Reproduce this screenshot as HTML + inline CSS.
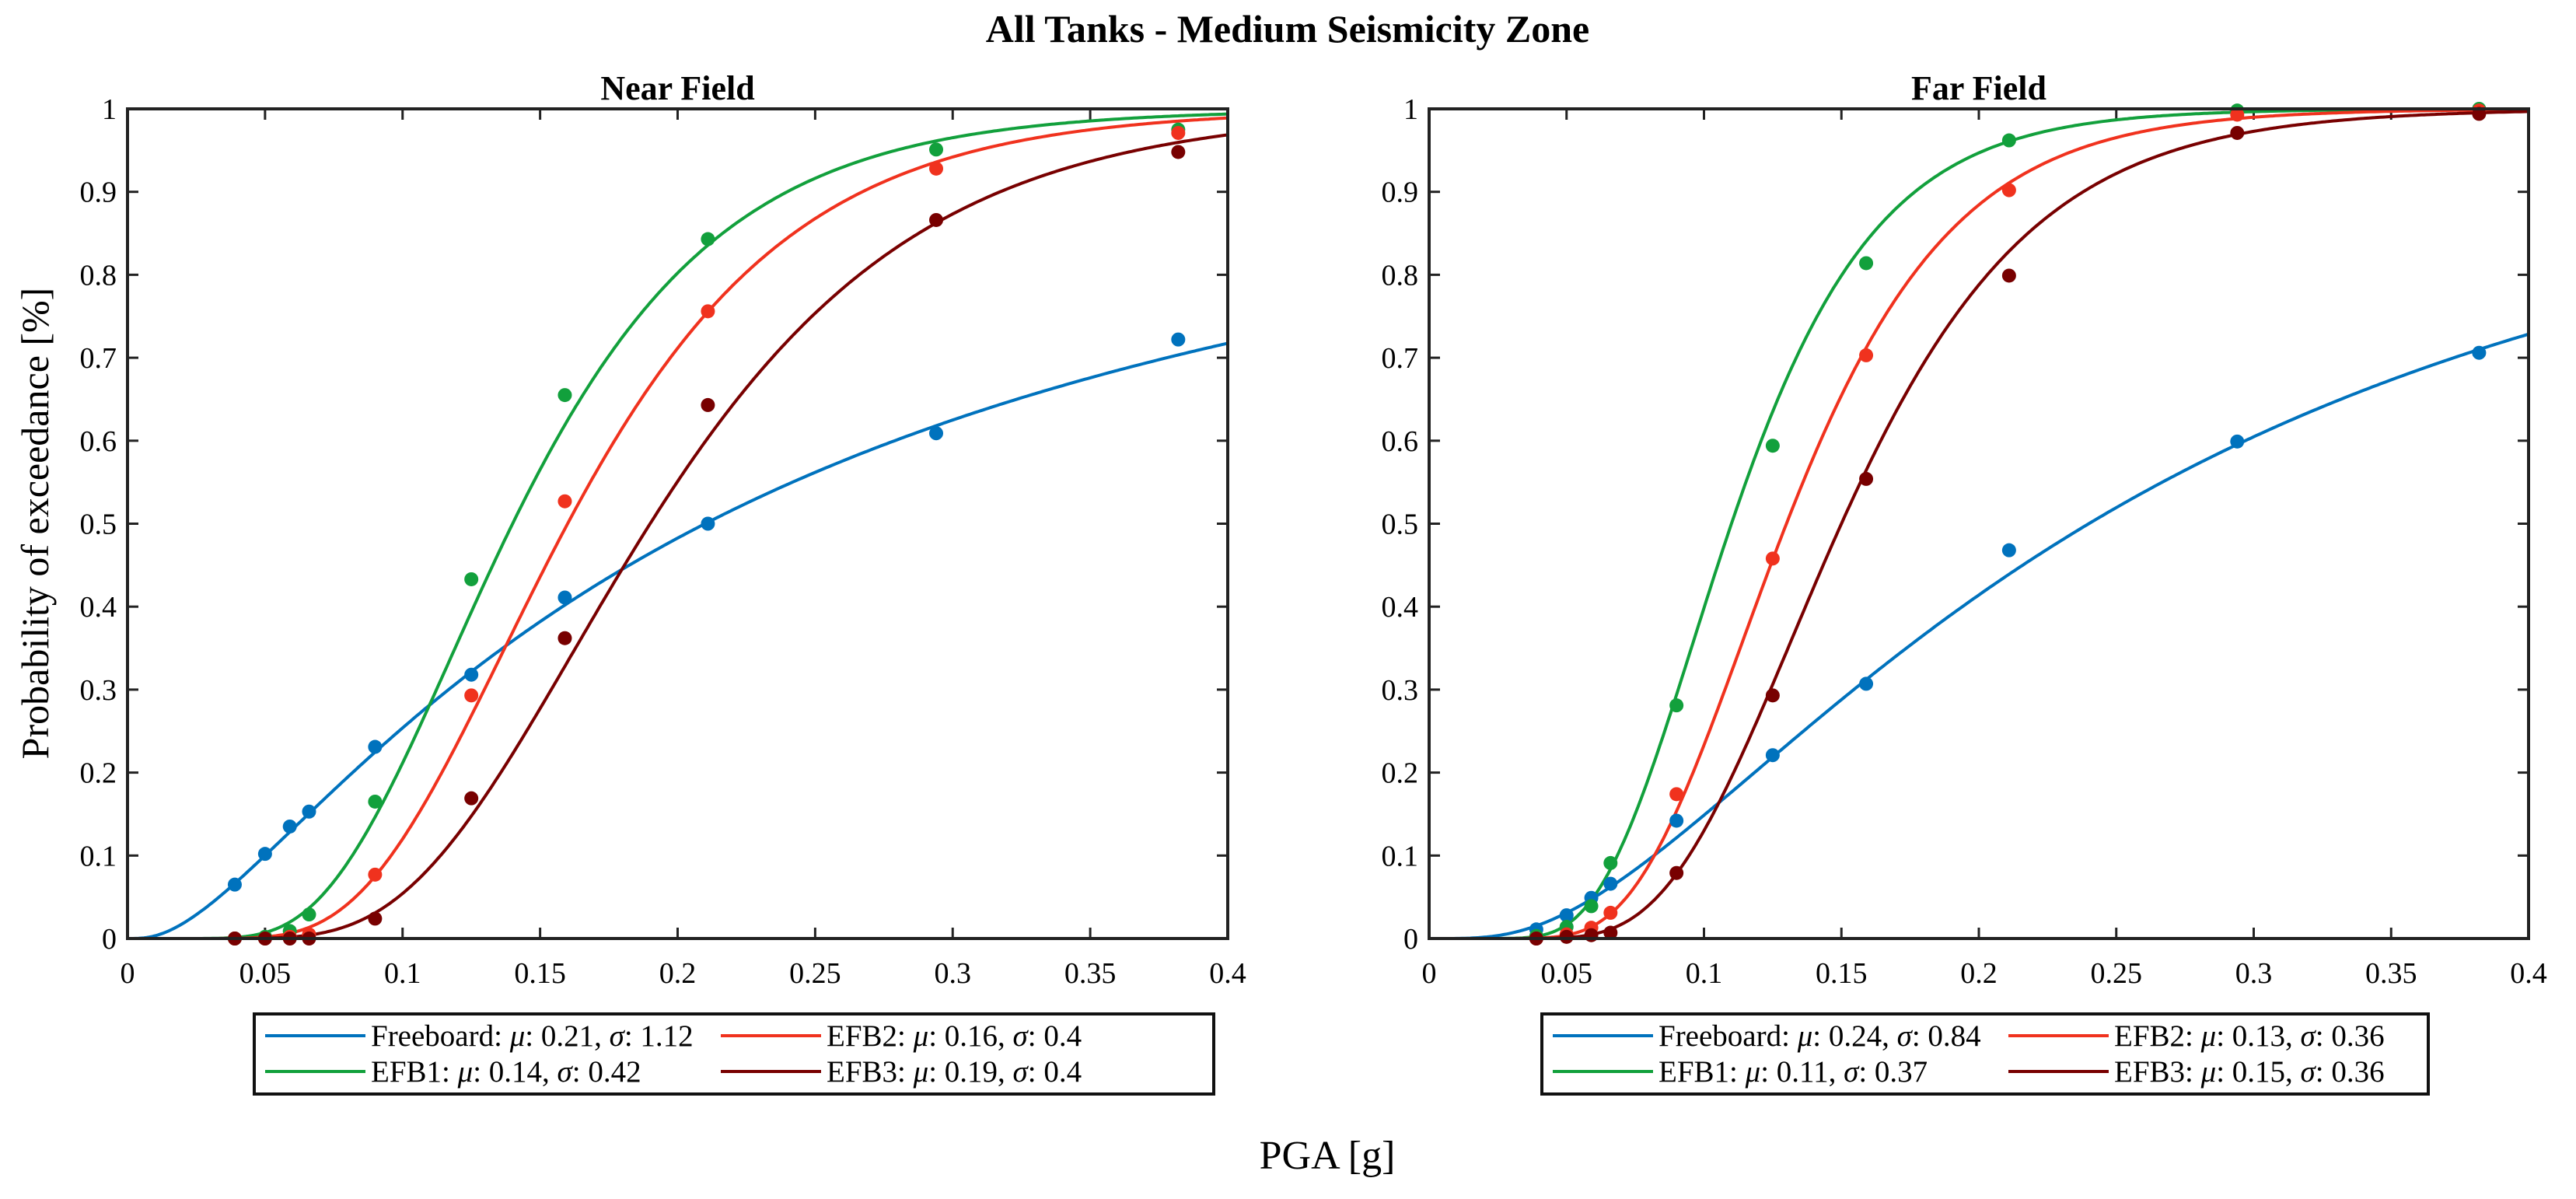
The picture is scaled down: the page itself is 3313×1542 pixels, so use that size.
<!DOCTYPE html>
<html><head><meta charset="utf-8">
<style>
html,body{margin:0;padding:0;background:#fff;}
svg{display:block;font-family:"Liberation Serif",serif;}
</style></head>
<body>
<svg id="fig" width="3313" height="1542" viewBox="0 0 3313 1542" xmlns="http://www.w3.org/2000/svg">
<text x="1656" y="54" text-anchor="middle" font-size="50" font-weight="bold">All Tanks - Medium Seismicity Zone</text>
<text x="1707" y="1503" text-anchor="middle" font-size="52">PGA [g]</text>
<text transform="translate(62,673) rotate(-90)" text-anchor="middle" font-size="50">Probability of exceedance [%]</text>
</svg>
<script>
const pgaX = [0.039, 0.05, 0.059, 0.066, 0.09, 0.125, 0.159, 0.211, 0.294, 0.382];
const xTicks = [0, 0.05, 0.1, 0.15, 0.2, 0.25, 0.3, 0.35, 0.4];
const xTickLabels = ["0","0.05","0.1","0.15","0.2","0.25","0.3","0.35","0.4"];
const yTicks = [0,0.1,0.2,0.3,0.4,0.5,0.6,0.7,0.8,0.9,1];
const yTickLabels = ["0","0.1","0.2","0.3","0.4","0.5","0.6","0.7","0.8","0.9","1"];
const seriesNames = ["Freeboard","EFB1","EFB2","EFB3"];
const nearMu = [0.21, 0.14, 0.16, 0.19];
const nearSigma = [1.12, 0.42, 0.4, 0.4];
const farMu = [0.24, 0.11, 0.13, 0.15];
const farSigma = [0.84, 0.37, 0.36, 0.36];
const nearFreeboard = [0.065,0.102,0.135,0.153,0.231,0.318,0.411,0.5,0.609,0.722];
const nearEFB1 = [0,0.002,0.009,0.029,0.165,0.433,0.655,0.843,0.951,0.975];
const nearEFB2 = [0,0,0.002,0.005,0.077,0.293,0.527,0.756,0.928,0.971];
const nearEFB3 = [0,0,0,0,0.024,0.169,0.362,0.643,0.866,0.948];
const farFreeboard = [0.011,0.028,0.049,0.066,0.142,0.221,0.307,0.468,0.599,0.706];
const farEFB1 = [0.003,0.014,0.039,0.091,0.281,0.594,0.814,0.962,0.998,1.0];
const farEFB2 = [0,0.005,0.013,0.031,0.174,0.458,0.703,0.902,0.993,0.998];
const farEFB3 = [0,0.002,0.004,0.007,0.079,0.293,0.554,0.799,0.971,0.994];

const colors = ["#0072BD","#12A03C","#F0321E","#780000"];
const NS = "http://www.w3.org/2000/svg";
const svg = document.getElementById('fig');
function mk(tag, attrs, parent){const e=document.createElementNS(NS,tag);for(const k in attrs)e.setAttribute(k,attrs[k]);(parent||svg).appendChild(e);return e;}
function erf(x){const s=x<0?-1:1;x=Math.abs(x);const t=1/(1+0.3275911*x);const y=1-(((((1.061405429*t-1.453152027)*t)+1.421413741)*t-0.284496736)*t+0.254829592)*t*Math.exp(-x*x);return s*y;}
function cdf(x,mu,sg){if(x<=0)return 0;return 0.5*(1+erf(Math.log(x/mu)/(sg*Math.SQRT2)));}

function panel(cfg){
  const L=cfg.L,R=cfg.R,T=140,B=1207;
  const sx=v=>L+(v-0)/(0.4)*(R-L);
  const sy=v=>B-v*(B-T);
  const g=mk('g',{});
  
  
  const t=mk('text',{x:(L+R)/2,y:128,'text-anchor':'middle','font-size':44,'font-weight':'bold'},g);
  t.textContent=cfg.title;
  
  
  xTicks.forEach((v,i)=>{
    const x=sx(v);
    const a=mk('line',{x1:x,x2:x,y1:B,y2:B-14,stroke:'#222','stroke-width':3},g);
    
    
    mk('line',{x1:x,x2:x,y1:T,y2:T+14,stroke:'#222','stroke-width':3},g);
    const tl=mk('text',{x:x,y:B+57,'text-anchor':'middle','font-size':38},g);
    tl.textContent=xTickLabels[i];
    
    
  });
  yTicks.forEach((v,i)=>{
    const y=sy(v);
    mk('line',{x1:L,x2:L+14,y1:y,y2:y,stroke:'#222','stroke-width':3},g);
    mk('line',{x1:R,x2:R-14,y1:y,y2:y,stroke:'#222','stroke-width':3},g);
    const tl=mk('text',{x:L-14,y:y+13,'text-anchor':'end','font-size':38},g);
    tl.textContent=yTickLabels[i];
    
    
  });
  cfg.mu.forEach((m,k)=>{
    let d='';
    for(let i=0;i<=400;i++){const xv=0.4*i/400;d+=(i?'L':'M')+sx(xv).toFixed(1)+','+sy(cdf(xv,m,cfg.sigma[k])).toFixed(1);}
    const p=mk('path',{d:d,fill:'none',stroke:colors[k],'stroke-width':4},g);
    
    
  });
  cfg.pts.forEach((arr,k)=>{
    arr.forEach((v,i)=>{
      const c=mk('circle',{cx:sx(pgaX[i]),cy:sy(v),r:9,fill:colors[k]},g);
      
      
    });
  });
  const box=mk('rect',{x:L,y:T,width:R-L,height:B-T,fill:'none',stroke:'#222','stroke-width':4},g);
  
  
  const lg=mk('g',{},g);
  
  
  mk('rect',{x:cfg.lx,y:1304,width:cfg.lw,height:103,fill:'#fff',stroke:'#111','stroke-width':4},lg);
  const pos=[[0,0],[0,1],[1,0],[1,1]];
  cfg.mu.forEach((m,k)=>{
    const col=pos[k][0],row=pos[k][1];
    const x0=cfg.lx+14+col*cfg.colW, y0=row?1378:1332;
    mk('line',{x1:x0,x2:x0+129,y1:y0,y2:y0,stroke:colors[k],'stroke-width':4},lg);
    const tx=mk('text',{x:x0+136,y:y0+13,'font-size':39},lg);
    tx.innerHTML=seriesNames[k]+': <tspan font-style="italic">μ</tspan>: '+m+', <tspan font-style="italic">σ</tspan>: '+cfg.sigma[k];
    
    
  });
}
panel({id:'near-field',title:'Near Field',L:164,R:1579,mu:nearMu,sigma:nearSigma,pts:[nearFreeboard,nearEFB1,nearEFB2,nearEFB3],lx:327,lw:1234,colW:586});
panel({id:'far-field',title:'Far Field',L:1838,R:3252,mu:farMu,sigma:farSigma,pts:[farFreeboard,farEFB1,farEFB2,farEFB3],lx:1983,lw:1140,colW:586});
</script>
</body></html>
